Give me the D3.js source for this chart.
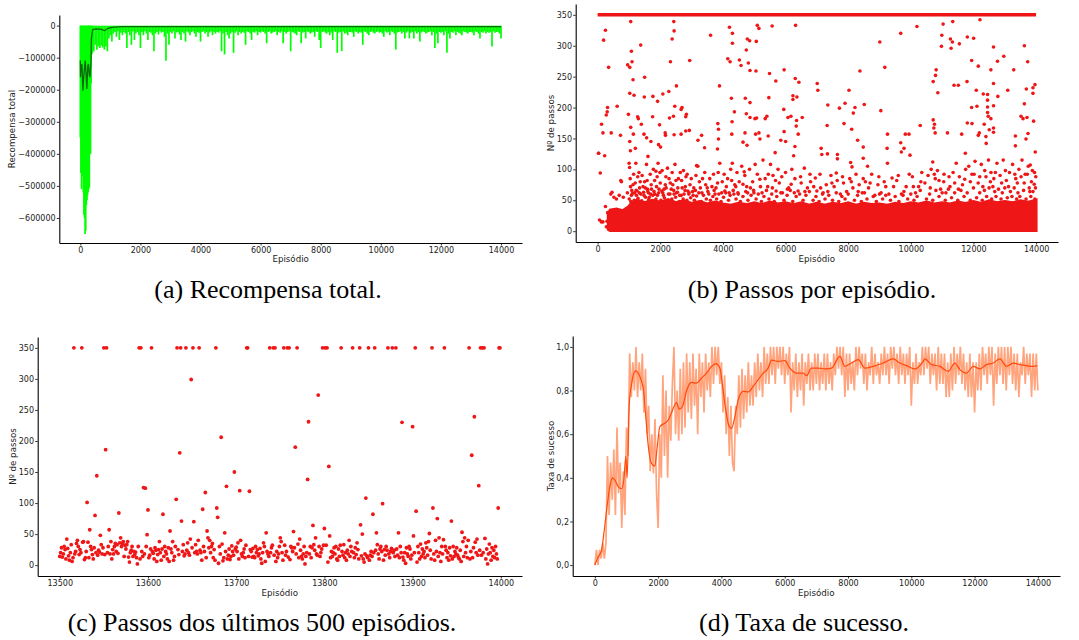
<!DOCTYPE html>
<html><head><meta charset="utf-8">
<script src="https://cdn.jsdelivr.net/npm/d3@7"></script>
<style>
body{margin:0;background:#fff;}
svg{display:block;background:#fff;}
.tick text{font-family:"DejaVu Sans",sans-serif;font-size:8px;fill:#222;}
.axlabel{font-family:"DejaVu Sans",sans-serif;font-size:8.7px;fill:#222;}
.caption{font-family:"Liberation Serif","Times New Roman",serif;font-size:26px;fill:#000;}
</style></head><body>
<svg id="c" width="1079" height="640"></svg>
<script>
// ---------------- DATA ----------------
const episodeTicks = [0,2000,4000,6000,8000,10000,12000,14000];
const lastTicks = [13500,13600,13700,13800,13900,14000];
const rewardTicks = [0,-100000,-200000,-300000,-400000,-500000,-600000];
const stepTicks = [0,50,100,150,200,250,300,350];
const rateTicks = [0,0.2,0.4,0.6,0.8,1.0];

// (a) total reward: per-bin minimum (raw line spikes), top of raw near 0
const rewardTop = -300;
const rewardEarlyEp = [0,20,40,60,80,100,120,140,160,180,200,220,240,260,280,300,320,340,360,380];
const rewardEarlyMin = [-350000,-460000,-510000,-470000,-470000,-520000,-590000,-600000,-650000,-640000,-560000,-545000,-530000,-520000,-510000,-505000,-400000,-400000,-180000,-90000];
const rewardMainEp = d3.range(400, 14001, 50);
const rewardMainMin = [
-85000,-80000,-60000,-75000,-65000,-70000,-62000,-68000,-75000,-65000,-80000,-40000,
-30000,-50000,-25000,-20000,-35000,-18000,-45000,-22000,-30000,-20000,-25000,-70000,-20000,-30000,-60000,-18000,-45000,-25000,-20000,-30000,
-70000,-20000,-30000,-18000,-25000,-45000,-20000,-22000,-30000,-80000,-25000,-20000,-28000,-18000,-22000,-20000,-35000,-110000,-25000,-60000,
-20000,-25000,-18000,-40000,-22000,-20000,-28000,-45000,-20000,-25000,-50000,-18000,-22000,-30000,-20000,-18000,-25000,-35000,-20000,-22000,
-50000,-20000,-18000,-25000,-20000,-35000,-22000,-18000,-30000,-20000,-25000,-20000,-22000,-18000,-80000,-25000,-90000,-20000,-30000,-40000,
-25000,-20000,-85000,-22000,-18000,-30000,-20000,-25000,-20000,-22000,-60000,-18000,-20000,-25000,-45000,-20000,-22000,-18000,-30000,-20000,
-22000,-18000,-20000,-25000,-55000,-20000,-18000,-25000,-22000,-20000,-18000,-30000,-20000,-22000,-18000,-55000,-20000,-25000,-20000,-18000,
-80000,-20000,-22000,-25000,-30000,-18000,-20000,-55000,-22000,-20000,-40000,-18000,-20000,-25000,-22000,-20000,-35000,-18000,-20000,-45000,
-70000,-20000,-18000,-22000,-25000,-20000,-30000,-22000,-45000,-18000,-20000,-85000,-22000,-20000,-80000,-18000,-25000,-22000,-30000,-20000,
-20000,-22000,-35000,-18000,-20000,-25000,-20000,-22000,-60000,-18000,-20000,-25000,-30000,-20000,-18000,-22000,-25000,-20000,-18000,-22000,
-20000,-25000,-35000,-18000,-22000,-20000,-30000,-18000,-20000,-25000,-75000,-22000,-20000,-18000,-25000,-20000,-40000,-22000,-18000,-40000,
-22000,-20000,-40000,-18000,-25000,-20000,-50000,-22000,-18000,-20000,-25000,-22000,-20000,-18000,-30000,-20000,-70000,-25000,-55000,-20000,
-22000,-20000,-30000,-18000,-85000,-25000,-40000,-20000,-22000,-18000,-30000,-20000,-22000,-25000,-30000,-18000,-20000,-22000,-25000,-20000,
-20000,-22000,-30000,-18000,-20000,-25000,-40000,-20000,-22000,-18000,-25000,-20000,-22000,-20000,-65000,-18000,-22000,-20000,-20000,-25000,
-40000];
const rewardAvgEp = [0,5,22,54,86,108,162,195,216,249,270,303,324,357,368,411,540,700,810,865,919,1100,1405,2000,3000,4000,5000,6000,7000,8000,9000,10000,11000,12000,13000,14000];
const rewardAvg = [-109000,-161000,-135000,-120000,-203000,-166000,-109000,-156000,-198000,-125000,-120000,-156000,-161000,-104000,-42000,-12500,-10400,-12000,-15600,-12500,-8300,-5000,-3100,-3500,-3000,-3500,-3000,-3200,-3000,-3400,-3000,-3200,-3000,-3300,-3000,-3200];

// (b) steps per episode
const capRange = [0, 13999];        // episodes hitting the 350-step cap
const capValue = 350;
const bandSteps = [[340,3,28],[400,1,34],[600,1,36],[800,1,33],[1000,1,40],[1100,1,47],[1250,1,50],[1500,1,46],[1750,1,50],[2000,1,47],[2250,1,51],[2500,1,46],[2750,1,49],[3000,1,45],[3250,1,48],[3500,1,44],[3750,1,47],[4000,1,44],[4250,1,42],[4500,1,45],[4750,1,43],[5000,1,46],[5250,1,43],[5500,1,47],[5750,1,44],[6000,1,46],[6250,1,43],[6500,1,46],[6750,1,42],[7000,1,45],[7250,1,42],[7500,1,45],[7750,1,43],[8000,1,46],[8250,1,42],[8500,1,45],[8750,1,43],[9000,1,44],[9250,1,42],[9500,1,45],[9750,1,43],[10000,1,46],[10250,1,44],[10500,1,47],[10750,1,44],[11000,1,46],[11250,1,44],[11500,1,47],[11750,1,45],[12000,1,48],[12250,1,45],[12500,1,49],[12750,1,46],[13000,1,48],[13250,1,46],[13500,1,49],[13750,1,47],[13999,1,50]];
const stepsEarly = [[30,126],[85,94],[60,18],[120,15],[170,15],[250,40],[280,7],[320,30],[300,16]];
const stepsUpper = [[1010,52],[1060,48],[1110,61],[1170,50],[1230,66],[1290,53],[1340,70],[1410,49],[1470,63],[1530,55],[1590,68],[1630,51],[1690,60],[1740,47],[1800,64],[1860,52],[1910,58],[1960,68],[2020,50],[2080,62],[2130,54],[2190,70],[2240,49],[2310,60],[2370,52],[2430,66],[2490,55],[2550,63],[2610,48],[2670,58],[2730,52],[2790,66],[2850,50],[2910,60],[2970,54],[3030,64],[3090,50],[3160,57],[3230,62],[3310,48],[3380,58],[3470,52],[3520,64],[3600,50],[3680,56],[3720,66],[3800,52],[3870,60],[3940,48],[4020,55],[4090,62],[4180,50],[4230,58],[4330,66],[4420,52],[4490,60],[4560,48],[4640,56],[4730,64],[4800,50],[4900,58],[4980,66],[5060,52],[5130,60],[5230,48],[5310,56],[5390,66],[5470,52],[5560,60],[5640,48],[5720,56],[5850,62],[5950,50],[6050,58],[6150,66],[6230,48],[6340,56],[6450,60],[6560,50],[6650,58],[6760,64],[6880,50],[6970,56],[7070,48],[7180,60],[7260,52],[7380,58],[7500,50],[7620,62],[7700,48],[7800,56],[7900,52],[8000,60],[8200,50],[8300,58],[8420,48],[8520,62],[8600,52],[8800,56],[8900,48],[9000,60],[9100,52],[9200,58],[9350,50],[9500,56],[9620,48],[9750,58],[9900,52],[10000,60],[10100,50],[10200,56],[10300,66],[10500,52],[10600,60],[10700,50],[10800,66],[10900,56],[11000,62],[11100,50],[11200,68],[11300,54],[11400,62],[11500,50],[11600,66],[11700,56],[11800,62],[11900,50],[12000,70],[12100,54],[12200,62],[12280,50],[12350,66],[12420,56],[12500,70],[12580,52],[12680,64],[12720,56],[12800,68],[12880,52],[12920,62],[13000,70],[13080,54],[13180,64],[13230,56],[13300,70],[13380,52],[13420,62],[13480,56],[13600,66],[13680,52],[13780,70],[13830,56],[13900,64],[13960,52],[13980,70]];
const stepsMid = [[420,60],[460,63],[520,55],[600,52],[690,58],[760,80],[820,55],[950,62],[1020,103],[1050,72],[1080,58],[1130,75],[1180,62],[1220,110],[1260,65],[1320,95],[1380,60],[1450,72],[1500,80],[1560,108],[1600,65],[1650,55],[1720,68],[1780,100],[1830,60],[1880,72],[1930,110],[1990,95],[2050,65],[2100,58],[2160,75],[2230,102],[2280,85],[2350,68],[2400,75],[2470,108],[2520,62],[2580,85],[2640,95],[2700,70],[2760,60],[2820,88],[2880,65],[2950,75],[3050,58],[3120,66],[3200,105],[3280,70],[3350,85],[3450,75],[3550,60],[3650,72],[3750,60],[3850,95],[3900,110],[3980,80],[4060,65],[4150,85],[4250,100],[4300,110],[4380,75],[4450,95],[4520,80],[4600,105],[4700,90],[4760,72],[4850,100],[4950,80],[5030,108],[5100,92],[5200,72],[5280,115],[5350,85],[5430,72],[5520,108],[5600,90],[5700,65],[5800,78],[5900,62],[6000,95],[6100,70],[6200,100],[6300,85],[6400,65],[6500,78],[6600,102],[6700,70],[6800,80],[6900,72],[7000,65],[7100,92],[7200,62],[7300,75],[7450,90],[7550,72],[7650,82],[7750,60],[7850,78],[7950,64],[8050,85],[8150,70],[8250,92],[8350,75],[8450,62],[8550,80],[8650,70],[8750,92],[8850,58],[8950,75],[9050,62],[9150,80],[9300,60],[9450,72],[9550,82],[9700,60],[9850,72],[9950,92],[10050,88],[10150,62],[10250,72],[10350,95],[10450,78],[10550,90],[10650,100],[10700,112],[10780,85],[10850,98],[10950,68],[11050,80],[11120,62],[11250,72],[11350,95],[11450,110],[11550,88],[11650,75],[11750,100],[11850,105],[11950,92],[12050,113],[12150,78],[12250,108],[12300,72],[12400,88],[12480,115],[12560,95],[12650,85],[12750,110],[12850,90],[12950,115],[13050,82],[13150,95],[13250,108],[13350,85],[13450,100],[13550,115],[13650,92],[13750,105],[13850,80],[13950,95],[13990,88]];
const stepsMid2 = [[1040,85],[1090,66],[1150,92],[1200,78],[1240,58],[1280,88],[1330,62],[1360,80],[1420,90],[1480,58],[1520,70],[1580,82],[1620,62],[1680,92],[1710,75],[1760,58],[1820,82],[1900,88],[1950,62],[2000,78],[2060,98],[2120,68],[2180,88],[2260,60],[2320,78],[2380,95],[2440,60],[2500,82],[2560,70],[2620,58],[2680,82],[2740,98],[2800,72],[2860,92],[2920,62],[2990,85],[3070,70],[3140,90],[3250,80],[3330,62],[3420,95],[3500,70],[3580,85],[3700,92],[3780,70],[3830,78],[3960,62],[4040,92],[4110,72],[4200,62],[4280,82],[4350,60],[4410,72],[4480,62],[4640,76],[4680,96],[4790,62],[4880,70],[4990,62],[5180,84],[5250,62],[5450,92],[5580,70],[5680,82],[5760,100],[5880,88],[6060,68],[6180,76],[6280,62],[6480,88],[6620,64],[6780,92],[6950,86],[7120,70],[7350,64],[7480,78],[7620,94],[7820,88],[8100,80],[8320,64],[8480,85],[8700,78],[8980,88],[9200,72],[9400,86],[9600,90],[9780,64],[10080,72],[10320,80],[10620,70],[10750,92],[10900,82],[11060,92],[11220,88],[11400,78],[11520,68],[11720,84],[11900,80],[12020,92],[12200,88],[12360,98],[12540,80],[12620,72],[12700,95],[12900,78],[13020,98],[13120,72],[13320,92],[13400,78],[13520,88],[13620,78],[13720,92],[13800,64],[13880,98],[13940,76]];
const stepsHigh = [[1005,110],[1026,223],[1026,265],[1026,145],[960,269],[983,189],[1057,339],[1078,291],[1099,274],[1131,245],[1163,220],[1057,168],[1047,130],[1141,157],[1205,134],[1279,185],[1300,182],[1375,301],[1396,173],[1501,249],[1491,217],[1480,157],[1565,151],[1607,121],[1702,145],[1766,218],[1755,185],[1861,97],[1914,210],[1946,140],[1977,172],[2009,136],[2083,222],[2157,159],[2167,155],[2273,226],[2294,183],[2325,274],[2379,311],[2432,339],[2442,324],[2464,202],[2421,186],[2442,156],[2516,235],[2696,200],[2665,197],[2665,157],[2813,162],[2813,185],[2834,189],[2940,276],[2929,163],[3204,147],[3320,155],[3161,106],[3415,135],[3606,317],[3891,235],[3838,174],[3859,165],[3859,149],[3828,133],[4156,279],[4230,274],[4209,330],[4304,320],[4304,304],[4272,215],[4367,193],[4293,177],[4283,157],[4526,277],[4579,268],[4716,215],[4780,311],[4854,308],[4748,293],[4812,272],[4865,260],[4865,208],[4865,184],[4748,190],[4642,144],[4706,159],[4769,139],[5097,333],[5150,328],[5066,307],[5055,259],[5023,182],[5076,183],[5150,159],[5182,149],[5044,157],[5351,182],[5404,186],[5467,216],[5489,255],[5446,154],[5572,332],[5689,243],[5668,127],[5954,261],[5944,197],[5954,161],[5849,147],[6003,145],[6077,184],[6172,186],[6236,219],[6236,213],[6320,333],[6310,247],[6363,217],[6426,241],[6352,179],[6341,170],[6405,157],[6532,184],[6299,137],[6257,122],[7011,239],[7032,228],[7138,134],[7328,171],[7349,204],[7159,124],[7338,125],[7720,199],[7656,124],[7656,117],[7867,174],[7899,207],[8026,228],[8111,165],[8164,191],[8217,200],[8079,111],[8121,104],[8375,259],[8513,205],[8481,136],[8481,118],[8301,147],[8619,105],[9010,306],[9042,195],[9169,265],[9254,157],[9243,134],[9254,110],[9677,320],[9677,143],[9698,128],[9825,157],[9783,134],[9941,157],[9973,123],[10195,331],[10301,171],[10714,180],[10756,173],[10735,167],[10777,159],[10714,242],[10788,252],[10809,261],[10862,224],[10978,299],[10989,317],[11031,335],[11169,159],[11264,311],[11328,306],[11285,296],[11338,339],[11380,236],[11518,236],[11550,303],[11624,157],[11741,126],[11794,242],[11804,175],[11804,314],[11942,276],[11942,200],[12005,312],[11953,174],[12090,228],[12111,202],[12154,155],[12207,342],[12154,267],[12186,159],[12312,222],[12344,173],[12407,142],[12397,153],[12450,212],[12450,221],[12450,192],[12450,201],[12471,186],[12503,164],[12556,261],[12556,182],[12640,298],[12640,239],[12640,203],[12640,167],[12640,160],[12767,275],[12778,218],[12968,283],[13095,228],[13285,261],[13338,154],[13338,138],[13518,186],[13582,182],[13624,300],[13624,206],[13688,230],[13709,184],[13730,274],[13741,158],[13677,149],[13899,232],[13899,223],[13920,178],[13963,237],[13973,128],[13814,107],
[30,126],[125,173],[170,159],[190,309],[250,325],[225,122],[275,188],[317,200],[306,193],[350,265],[624,202],[434,159],[730,155],[740,82]];

// (c) steps of the last 500 episodes (episodes 13500..13999)
const lastStart = 13500;
const lastSteps = [
14,20,28,13,18,30,25,10,42,27,15,8,20,33,6,12,350,18,22,35,40,30,17,25,20,
350,37,38,9,12,22,101,37,12,57,30,25,17,10,28,80,20,144,16,24,21,48,33,18,28,
350,17,186,350,20,30,57,18,38,10,25,18,30,35,22,33,19,84,36,44,30,35,38,14,32,
26,33,38,13,5,20,24,30,14,22,17,21,12,2,30,350,10,350,22,14,125,18,124,30,49,
89,12,16,26,350,22,19,10,28,24,6,17,25,38,20,8,26,82,14,30,22,18,10,28,6,
55,26,20,38,8,14,30,106,350,25,17,181,350,71,22,33,15,18,350,24,36,20,16,42,299,
28,350,70,20,33,22,18,40,350,24,20,8,90,30,22,117,12,55,44,28,40,20,30,35,12,
25,8,350,92,77,3,30,18,206,34,7,12,52,22,127,10,16,26,9,14,31,22,16,150,26,
29,22,36,10,120,40,18,14,20,26,12,32,350,350,14,119,25,22,13,27,14,12,30,20,25,
15,18,27,10,3,20,36,30,6,52,22,18,14,350,20,28,32,350,16,350,6,22,12,18,30,
44,38,20,8,350,32,16,22,350,13,350,9,30,28,22,54,28,190,18,350,34,12,42,24,14,
10,18,30,2,14,20,138,231,18,30,12,28,64,33,24,44,18,16,274,30,14,20,26,350,32,
59,350,32,350,5,159,47,12,22,14,20,28,18,30,10,8,26,14,32,350,22,16,33,12,20,
8,24,18,40,14,30,22,350,20,12,28,17,36,25,10,350,65,15,50,10,5,18,108,15,12,
350,8,16,22,14,82,20,350,24,52,33,18,10,26,30,22,99,8,25,16,30,24,350,18,12,
22,27,350,20,24,14,350,26,16,52,12,30,20,230,13,8,20,3,28,18,14,30,26,10,16,
223,47,20,350,87,5,30,20,10,34,14,26,18,22,12,36,28,16,38,51,24,10,350,92,18,
8,40,22,75,14,44,20,6,30,18,41,350,30,24,12,20,8,28,15,71,10,30,14,22,18,
28,16,12,10,24,6,53,38,14,44,20,30,12,40,350,10,22,177,12,28,239,37,20,42,16,
128,24,350,16,350,20,350,43,10,26,2,18,34,20,8,28,14,24,12,30,18,10,92,350,350];

// (d) success rate: raw (every 50 episodes) and smoothed
const rateRawEp = d3.range(0, 14001, 50);
const rateRaw = [
0.0,0.07,0.0,0.07,0.03,0.1,0.03,0.1,0.5,0.23,0.47,0.3,0.53,0.23,0.63,0.33,0.47,0.17,0.43,0.23,
0.63,0.5,0.97,0.77,0.93,0.8,1.0,0.77,0.93,0.8,0.97,0.7,0.9,0.6,0.73,0.43,0.6,0.42,0.67,0.33,
0.17,0.6,0.4,0.87,0.5,0.8,0.4,0.73,0.57,0.83,1.0,0.6,0.8,0.57,0.9,0.6,0.93,0.63,0.97,0.7,
0.93,0.67,0.97,0.73,0.9,0.6,0.97,0.77,0.93,0.7,0.97,0.8,0.93,0.77,1.0,0.83,1.0,0.87,1.0,0.83,
0.93,0.7,0.87,0.6,0.77,0.5,0.73,0.47,0.43,0.73,0.6,0.87,0.63,0.9,0.67,0.87,0.7,0.93,0.73,0.87,
0.73,0.93,0.77,0.97,0.8,0.93,0.77,1.0,0.83,0.97,0.83,1.0,0.87,1.0,0.83,1.0,0.9,1.0,0.87,1.0,
0.83,0.97,0.87,1.0,0.7,0.93,0.8,0.97,0.77,0.93,0.8,0.97,0.73,0.93,0.83,0.97,0.8,0.93,0.8,0.97,
0.83,0.97,0.8,0.93,0.83,0.97,0.8,0.97,0.83,0.93,0.8,0.97,0.87,1.0,0.9,1.0,0.87,1.0,0.77,0.97,
0.8,0.97,0.83,0.93,0.8,1.0,0.87,1.0,0.9,0.97,0.83,0.97,0.8,0.93,0.87,1.0,0.83,0.97,0.87,0.93,
0.83,0.97,0.87,1.0,0.87,0.97,0.83,1.0,0.9,1.0,0.87,0.97,0.83,1.0,0.87,0.97,0.83,0.97,0.87,1.0,
0.73,0.93,0.83,0.97,0.83,0.93,0.87,1.0,0.87,1.0,0.9,1.0,0.83,0.97,0.87,0.97,0.8,1.0,0.83,0.97,
0.83,0.97,0.77,0.93,0.77,0.97,0.8,1.0,0.83,0.97,0.87,1.0,0.83,0.97,0.8,0.93,0.77,0.97,0.77,0.93,
0.7,0.93,0.8,0.97,0.8,1.0,0.87,0.97,0.83,1.0,0.87,1.0,0.73,0.97,0.83,1.0,0.87,1.0,0.83,1.0,
0.8,1.0,0.87,1.0,0.83,0.97,0.8,0.97,0.77,0.93,0.87,1.0,0.83,0.97,0.87,0.97,0.77,0.97,0.8,0.97,
0.8];
const rateAvgEp = [0,105,210,285,370,474,558,632,737,843,916,980,1020,1085,1160,1285,1420,1530,1610,1685,1790,1895,1970,2055,2210,2320,2400,2580,2665,2770,2900,3055,3213,3370,3530,3687,3824,3950,4035,4120,4245,4320,4424,4530,4688,4846,5004,5162,5320,5478,5583,5794,6004,6162,6373,6584,6689,6847,7058,7268,7479,7742,7900,8111,8322,8533,8796,9112,9428,9639,9849,10113,10376,10429,10640,10903,11166,11377,11535,11746,11957,12167,12378,12588,12799,13010,13220,13431,13642,13852,13979];
const rateAvg = [0,0.037,0.067,0.144,0.25,0.36,0.40,0.39,0.36,0.35,0.39,0.50,0.40,0.73,0.83,0.89,0.865,0.81,0.68,0.55,0.466,0.454,0.54,0.635,0.65,0.665,0.69,0.745,0.715,0.727,0.80,0.837,0.834,0.857,0.88,0.91,0.923,0.903,0.82,0.727,0.635,0.627,0.68,0.758,0.796,0.794,0.819,0.85,0.88,0.903,0.939,0.934,0.937,0.903,0.88,0.88,0.868,0.903,0.903,0.899,0.903,0.957,0.911,0.926,0.942,0.903,0.911,0.926,0.945,0.926,0.914,0.899,0.934,0.945,0.919,0.911,0.888,0.926,0.896,0.88,0.911,0.899,0.919,0.926,0.945,0.911,0.926,0.919,0.914,0.911,0.914];

// ---------------- DRAW ----------------
const svg = d3.select('#c');
svg.append('rect').attr('width',1079).attr('height',640).attr('fill','#fff');

const panels = {
  a:{left:59.3,right:522,top:15,bottom:243,xDomain:[-700,14699],yDomain:[-678000,33000],xTicks:episodeTicks,yTicks:rewardTicks,
     yFmt:d=>d===0?'0':'\u2212'+Math.abs(d),xLabel:'Episódio',yLabel:'Recompensa total',yLabelX:12,xLabelY:259},
  b:{left:575.7,right:1058,top:4,bottom:242,xDomain:[-700,14699],yDomain:[-17.5,367.5],xTicks:episodeTicks,yTicks:stepTicks,
     yFmt:d3.format('d'),xLabel:'Episódio',yLabel:'Nº de passos',yLabelX:551,xLabelY:259},
  c:{left:37.7,right:522,top:337,bottom:576,xDomain:[13475,14024],yDomain:[-17.5,367.5],xTicks:lastTicks,yTicks:stepTicks,
     yFmt:d3.format('d'),xLabel:'Episódio',yLabel:'Nº de passos',yLabelX:13,xLabelY:593},
  d:{left:572.7,right:1060,top:336,bottom:576,xDomain:[-700,14699],yDomain:[-0.05,1.05],xTicks:episodeTicks,yTicks:rateTicks,
     yFmt:d=>d.toFixed(1).replace('.',','),xLabel:'Episódio',yLabel:'Taxa de sucesso',yLabelX:551,xLabelY:593}
};
for (const k in panels){
  const p = panels[k];
  p.x = d3.scaleLinear().domain(p.xDomain).range([p.left,p.right]);
  p.y = d3.scaleLinear().domain(p.yDomain).range([p.bottom,p.top]);
  p.g = svg.append('g');
}

// (a)
{
  const p = panels.a;
  const raw = rewardEarlyEp.map((e,i)=>[e,rewardEarlyMin[i]])
    .concat(rewardMainEp.map((e,i)=>[e,rewardMainMin[i]]));
  p.g.selectAll('line.raw').data(raw).join('line')
    .attr('x1',d=>p.x(d[0])).attr('x2',d=>p.x(d[0]))
    .attr('y1',p.y(rewardTop)).attr('y2',d=>p.y(d[1]))
    .attr('stroke','#00ff00').attr('stroke-width',1.7);
  p.g.append('path').datum(rewardAvgEp.map((e,i)=>[e,rewardAvg[i]]))
    .attr('d',d3.line().x(d=>p.x(d[0])).y(d=>p.y(d[1])))
    .attr('fill','none').attr('stroke','#0a6a0a').attr('stroke-width',1.3);
}
// (b)
{
  const p = panels.b, col = '#ee1616';
  p.g.append('line').attr('x1',p.x(capRange[0])).attr('x2',p.x(capRange[1]))
    .attr('y1',p.y(capValue)).attr('y2',p.y(capValue)).attr('stroke',col).attr('stroke-width',3.6);
  p.g.append('path').datum(bandSteps)
    .attr('d',d3.area().x(d=>p.x(d[0])).y0(d=>p.y(d[1])).y1(d=>p.y(d[2])))
    .attr('fill',col).attr('stroke',col).attr('stroke-width',3);
  p.g.selectAll('circle').data(stepsEarly.concat(stepsUpper,stepsMid,stepsMid2,stepsHigh)).join('circle')
    .attr('cx',d=>p.x(d[0])).attr('cy',d=>p.y(d[1])).attr('r',1.8).attr('fill',col);
}
// (c)
{
  const p = panels.c, col = '#ee1616';
  p.g.selectAll('circle').data(lastSteps).join('circle')
    .attr('cx',(d,i)=>p.x(lastStart+i)).attr('cy',d=>p.y(d)).attr('r',1.9).attr('fill',col);
}
// (d)
{
  const p = panels.d;
  p.g.append('path').datum(rateRawEp.map((e,i)=>[e,rateRaw[i]]))
    .attr('d',d3.line().x(d=>p.x(d[0])).y(d=>p.y(d[1])))
    .attr('fill','none').attr('stroke','#ffa47c').attr('stroke-width',1.7);
  p.g.append('path').datum(rateAvgEp.map((e,i)=>[e,rateAvg[i]]))
    .attr('d',d3.line().curve(d3.curveMonotoneX).x(d=>p.x(d[0])).y(d=>p.y(d[1])))
    .attr('fill','none').attr('stroke','#ff4a0c').attr('stroke-width',1.2);
}

// axes and labels
for (const k in panels){
  const p = panels[k];
  const gx = svg.append('g').attr('transform',`translate(0,${p.bottom})`)
    .call(d3.axisBottom(p.x).tickValues(p.xTicks).tickFormat(d3.format('d')).tickSize(2.5).tickSizeOuter(0).tickPadding(2));
  const gy = svg.append('g').attr('transform',`translate(${p.left},0)`)
    .call(d3.axisLeft(p.y).tickValues(p.yTicks).tickFormat(p.yFmt).tickSize(2.5).tickSizeOuter(0).tickPadding(1.2));
  [gx,gy].forEach(g=>{
    g.select('.domain').attr('stroke','#000').attr('stroke-width',1.1);
    g.selectAll('.tick line').attr('stroke','#000').attr('stroke-width',0.8);
    g.selectAll('.tick text').attr('fill','#222').style('font-size','8px');
  });
  svg.append('text').attr('class','axlabel').attr('x',(p.left+p.right)/2).attr('y',p.xLabelY)
    .attr('text-anchor','middle').attr('dominant-baseline','central').text(p.xLabel);
  svg.append('text').attr('class','axlabel')
    .attr('transform',`translate(${p.yLabelX},${(p.top+p.bottom)/2}) rotate(-90)`)
    .attr('text-anchor','middle').attr('dominant-baseline','central').text(p.yLabel);
}

// captions
const captions = [
  {t:'(a) Recompensa total.', x:268, y:298},
  {t:'(b) Passos por episódio.', x:812, y:298},
  {t:'(c) Passos dos últimos 500 episódios.', x:262, y:631},
  {t:'(d) Taxa de sucesso.', x:804, y:631}
];
svg.selectAll('text.caption').data(captions).join('text').attr('class','caption')
  .style('font-family','"Liberation Serif","Times New Roman",serif')
  .attr('x',d=>d.x).attr('y',d=>d.y).attr('text-anchor','middle').text(d=>d.t);
</script></body></html>
